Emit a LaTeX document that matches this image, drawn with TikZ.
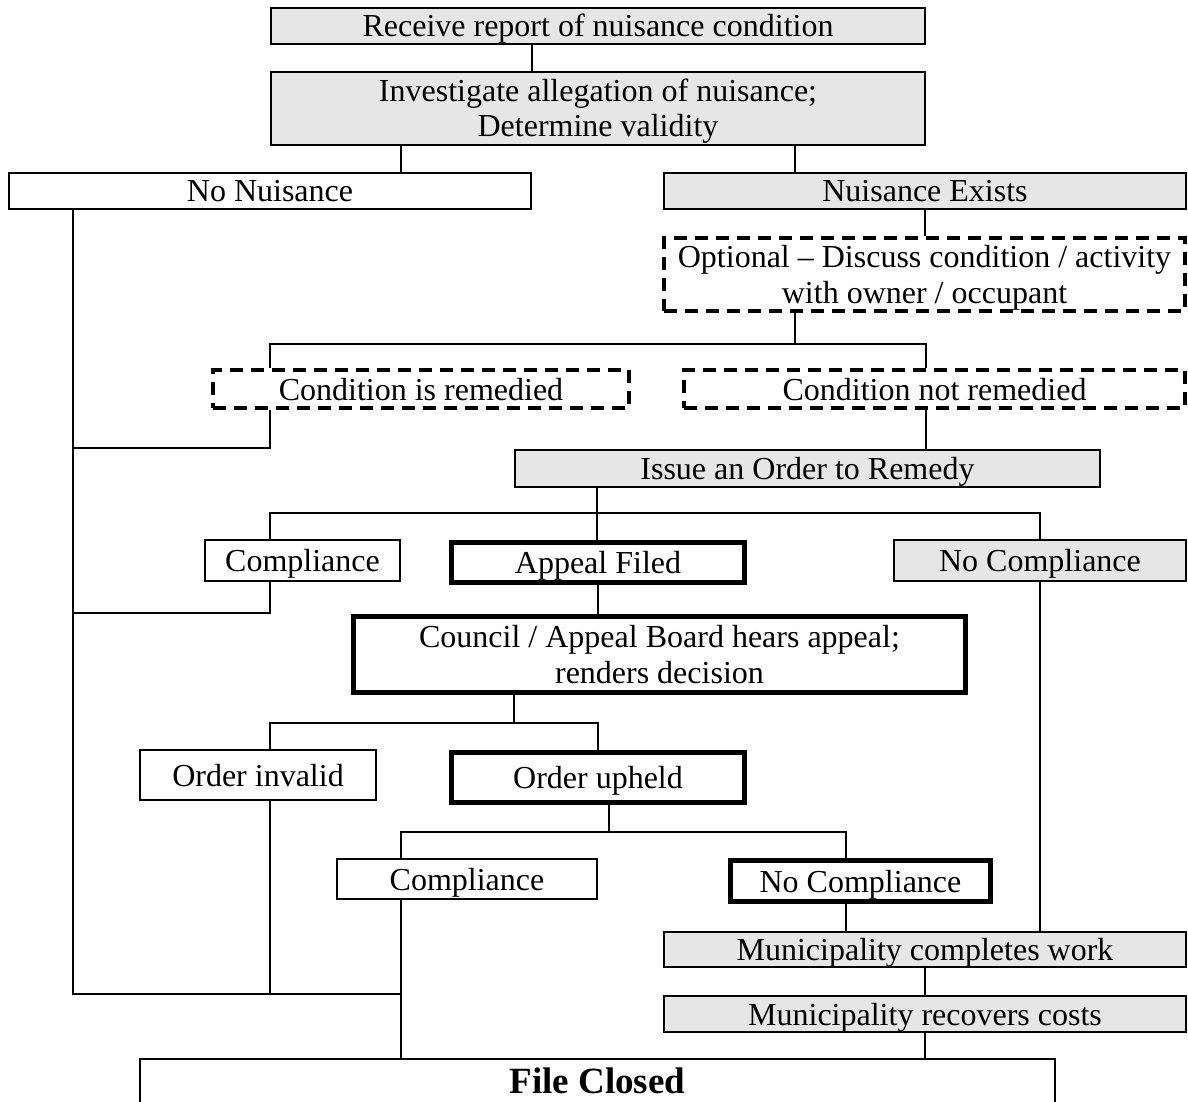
\documentclass[tikz,border=0pt]{standalone}
\usepackage{fontspec}
\setmainfont{Liberation Serif}
\definecolor{boxgray}{RGB}{230,230,230}
\newcommand\fsnorm{\fontsize{32}{35.5}\selectfont}
\newcommand\fsbig{\fontsize{37}{40}\selectfont\bfseries}
\tikzset{
  box/.style={draw, line width=2pt, inner sep=0pt, font=\fsnorm, text height=26pt, text depth=4pt},
  shaded/.style={fill=boxgray},
  tbox/.style={line width=5pt},
  dbox/.style={line width=4pt, dash pattern=on 13pt off 8pt},
  two/.style={align=center, text height=60pt, text depth=3pt},
  link/.style={line width=2pt}
}
\begin{document}
\begin{tikzpicture}[x=1pt,y=-1pt]
\useasboundingbox (0,0) rectangle (1188,1102);

\node[box,shaded,minimum width=654pt,minimum height=36pt] (rep) at (598,26) {Receive report of nuisance condition};
\node[box,shaded,two,minimum width=654pt,minimum height=73pt] (inv) at (598,108.5) {Investigate allegation of nuisance;\\Determine validity};
\node[box,minimum width=522pt,minimum height=36pt] (nonuis) at (270,191) {No Nuisance};
\node[box,shaded,minimum width=522pt,minimum height=36pt] (exists) at (925,191) {Nuisance Exists};
\node[box,dbox,two,minimum width=521pt,minimum height=73pt] (opt) at (924.5,274.5) {Optional – Discuss condition / activity\\with owner / occupant};
\node[box,dbox,minimum width=416pt,minimum height=38pt] (rem) at (421,389) {Condition is remedied};
\node[box,dbox,minimum width=501pt,minimum height=38pt] (notrem) at (934.5,389) {Condition not remedied};
\node[box,shaded,minimum width=585pt,minimum height=37pt] (order) at (807.5,468.5) {Issue an Order to Remedy};
\node[box,minimum width=195pt,minimum height=41pt] (comp1) at (302.5,560.5) {Compliance};
\node[box,tbox,minimum width=293pt,minimum height=40pt] (appeal) at (598,562.5) {Appeal Filed};
\node[box,shaded,minimum width=292pt,minimum height=41pt] (nocomp1) at (1040,560.5) {No Compliance};
\node[box,tbox,two,minimum width=612pt,minimum height=76pt] (council) at (659.5,654.5) {Council / Appeal Board hears appeal;\\renders decision};
\node[box,minimum width=236pt,minimum height=50pt] (invalid) at (258,775) {Order invalid};
\node[box,tbox,minimum width=293pt,minimum height=50pt] (upheld) at (598,777.5) {Order upheld};
\node[box,minimum width=260pt,minimum height=40pt] (comp2) at (467,879) {Compliance};
\node[box,tbox,minimum width=260pt,minimum height=41pt] (nocomp2) at (860.5,881) {No Compliance};
\node[box,shaded,minimum width=522pt,minimum height=35pt] (mwork) at (925,949.5) {Municipality completes work};
\node[box,shaded,minimum width=522pt,minimum height=36pt] (mcost) at (925,1014) {Municipality recovers costs};
\node[box,minimum width=915pt,minimum height=100pt,font=\fsbig,text height=24pt,text depth=56pt] (closed) at (597.5,1109) {File Closed};

\draw[link] ([xshift=-66pt]rep.south) -- ([xshift=-66pt]inv.north);
\draw[link] ([xshift=-197pt]inv.south) -- ([xshift=-197pt]inv.south |- nonuis.north);
\draw[link] ([xshift=197pt]inv.south) -- ([xshift=197pt]inv.south |- exists.north);
\draw[link] (exists.south) -- (exists.south |- opt.north);
\draw[link] ([xshift=-129.5pt]opt.south) -- ++(0,31) coordinate (j1);
\draw[link] ([xshift=-151pt]rem.north) |- (j1) -| ([xshift=-8.5pt]notrem.north);

\coordinate (L) at ([xshift=-197pt]nonuis.south);
\draw[link] ([xshift=-151pt]rem.south) -- ++(0,38) coordinate (t1) -- (t1 -| L);
\draw[link] ([xshift=-8.5pt]notrem.south) -- ([xshift=-8.5pt]notrem.south |- order.north);
\draw[link] ([xshift=-210.5pt]order.south) -- ([xshift=-210.5pt]order.south |- appeal.north);
\path ([xshift=-210.5pt]order.south) ++(0,25) coordinate (j2);
\draw[link] ([xshift=-32.5pt]comp1.north) |- (j2) -| (nocomp1.north);
\draw[link] ([xshift=-32.5pt]comp1.south) -- ++(0,31) coordinate (t2) -- (t2 -| L);
\draw[link] (appeal.south) -- (appeal.south |- council.north);
\draw[link] (nocomp1.south) -- (nocomp1.south |- mwork.north);
\draw[link] ([xshift=-145.5pt]council.south) -- ++(0,28) coordinate (j3);
\draw[link] ([xshift=12pt]invalid.north) |- (j3) -| (upheld.north);
\draw[link] ([xshift=11pt]upheld.south) -- ++(0,27) coordinate (j4);
\draw[link] ([xshift=-66pt]comp2.north) |- (j4) -| ([xshift=-14.5pt]nocomp2.north);
\draw[link] ([xshift=-14.5pt]nocomp2.south) -- ([xshift=-14.5pt]nocomp2.south |- mwork.north);
\draw[link] (mwork.south) -- (mwork.south |- mcost.north);
\draw[link] (mcost.south) -- (mcost.south |- closed.north);
\path ([xshift=-66pt]comp2.south) ++(0,94) coordinate (bj);
\draw[link] (L) |- (bj);
\draw[link] ([xshift=-66pt]comp2.south) -- ([xshift=-66pt]comp2.south |- closed.north);
\draw[link] ([xshift=12pt]invalid.south) -- ([xshift=12pt]invalid.south |- bj);
\end{tikzpicture}
\end{document}
